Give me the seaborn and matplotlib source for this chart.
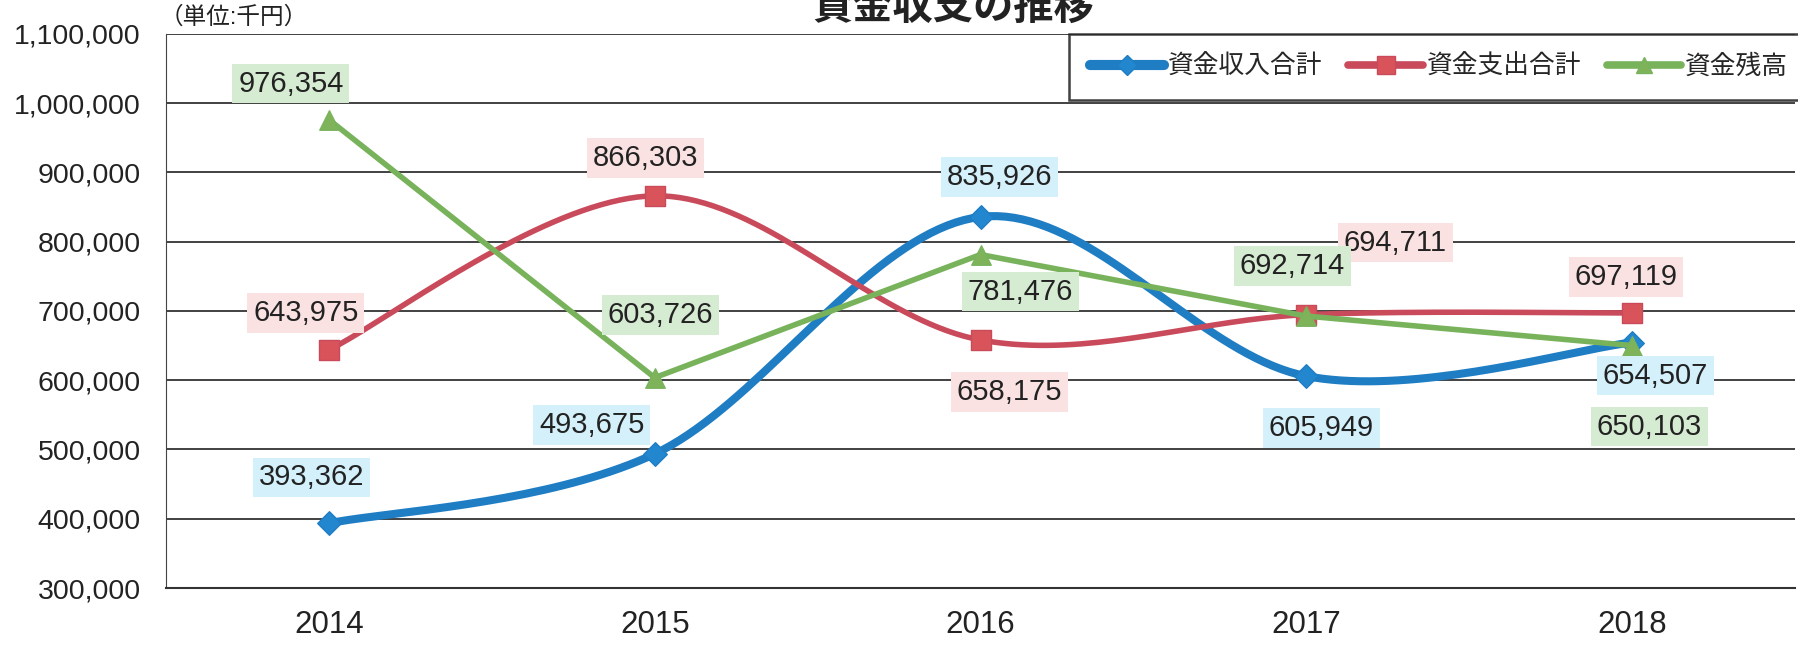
import numpy as np
import pandas as pd
import seaborn as sns
import matplotlib.pyplot as plt
from matplotlib.lines import Line2D
from matplotlib.ticker import FuncFormatter, MultipleLocator

# data (unit: thousand yen)
years = ['2014', '2015', '2016', '2017', '2018']
income = [393362, 493675, 835926, 605949, 654507]    # 資金収入合計
expense = [643975, 866303, 658175, 694711, 697119]   # 資金支出合計
balance = [976354, 603726, 781476, 692714, 650103]   # 資金残高

names = ['資金収入合計', '資金支出合計', '資金残高']

sns.set_style('white')
plt.rcParams['font.family'] = ['Liberation Sans', 'Noto Sans CJK JP', 'DejaVu Sans']

colors = {'資金収入合計': '#1f7dc4', '資金支出合計': '#c94b5b', '資金残高': '#78b35c'}
mfc = {'資金収入合計': '#2287cf', '資金支出合計': '#d9545a', '資金残高': '#7fb35a'}
box_colors = {'資金収入合計': '#d3f0fb', '資金支出合計': '#fbe2e2', '資金残高': '#d6ecd2'}
markers = {'資金収入合計': 'D', '資金支出合計': 's', '資金残高': '^'}
msize = {'資金収入合計': 12, '資金支出合計': 14.5, '資金残高': 14}
lw = {'資金収入合計': 5.8, '資金支出合計': 4, '資金残高': 4}
smooth = {'資金収入合計': True, '資金支出合計': True, '資金残高': False}

# label offsets in pixels (dx, dy) relative to each point
offsets = {
    '資金収入合計': [(-17, 46), (-63, 29), (19, 40), (15, -52), (23, -33)],
    '資金支出合計': [(-23, 37), (-9, 38), (29, -52), (89, 72), (-6, 36)],
    '資金残高': [(-38, 36), (6, 63), (40, -37), (-14, 50), (17, -81)],
}

df = pd.DataFrame({'x': np.arange(len(years)), 'year': years,
                   '資金収入合計': income, '資金支出合計': expense, '資金残高': balance})


def excel_smooth(xs, ys, n=40):
    # Bezier curve through the points, like Excel's "smoothed line"
    P = np.column_stack([xs, ys]).astype(float)
    out = []
    for i in range(len(P) - 1):
        p0 = P[i - 1] if i > 0 else P[i]
        p1, p2 = P[i], P[i + 1]
        p3 = P[i + 2] if i + 2 < len(P) else P[i + 1]
        c1 = p1 + (p2 - p0) / 6
        c2 = p2 - (p3 - p1) / 6
        t = np.linspace(0, 1, n)[:, None]
        seg = ((1 - t) ** 3) * p1 + 3 * ((1 - t) ** 2) * t * c1 + 3 * (1 - t) * t ** 2 * c2 + t ** 3 * p2
        out.append(seg if i == 0 else seg[1:])
    out = np.vstack(out)
    return out[:, 0], out[:, 1]


fig = plt.figure(figsize=(17.98, 6.49), dpi=100)
ax = fig.add_axes([166 / 1798, 1 - 588 / 649, (1795 - 166) / 1798, (588 - 34) / 649])

for z, name in enumerate(names):
    if smooth[name]:
        sx, sy = excel_smooth(df['x'], df[name])
    else:
        sx, sy = df['x'].values, df[name].values
    line_df = pd.DataFrame({'x': sx, 'y': sy})
    sns.lineplot(data=line_df, x='x', y='y', ax=ax, color=colors[name], linewidth=lw[name],
                 sort=False, estimator=None, zorder=3 + z, solid_capstyle='round')
    sns.scatterplot(data=df, x='x', y=name, ax=ax, marker=markers[name], s=msize[name] ** 2,
                    color=mfc[name], edgecolor=colors[name], linewidth=1, zorder=3.5 + z)

for name in names:
    for i, v in enumerate(df[name]):
        dx, dy = offsets[name][i]
        ax.annotate(f'{v:,}', xy=(i, v), xytext=(dx, dy), textcoords='offset pixels',
                    ha='center', va='center', fontsize=21, color='#222222', zorder=10,
                    bbox=dict(boxstyle='square,pad=0.2', fc=box_colors[name], ec='none'))

ax.set_xlim(-0.5, len(years) - 0.5)
ax.set_ylim(300000, 1100000)
ax.yaxis.set_major_locator(MultipleLocator(100000))
ax.yaxis.set_major_formatter(FuncFormatter(lambda v, p: f'{int(v):,}'))
ax.set_xticks(df['x'])
ax.set_xticklabels(years)
ax.set_xticks(np.arange(-0.5, len(years)), minor=True)
ax.tick_params(axis='x', which='major', length=0, labelsize=22.5, pad=16, colors='#222222')
ax.tick_params(axis='x', which='minor', direction='in', length=8, width=1, color='#555555')
ax.tick_params(axis='y', length=0, labelsize=20.5, pad=18, colors='#222222')
ax.set_xlabel('')
ax.set_ylabel('')
ax.grid(axis='y', color='#333333', linewidth=1.3)
ax.set_axisbelow(True)
for s in ['top', 'right']:
    ax.spines[s].set_visible(False)
ax.spines['left'].set_color('#444444')
ax.spines['bottom'].set_color('#333333')
ax.spines['bottom'].set_linewidth(1.5)

handles = [Line2D([0], [0], color=colors[n], lw=lw[n] + 1.5, marker=markers[n], markersize=msize[n] * 0.85,
                  markerfacecolor=mfc[n], markeredgecolor=colors[n], solid_capstyle='round')
           for n in names]
leg = fig.legend(handles, names, loc='upper right', bbox_to_anchor=(1.006, 1 - 34 / 649), ncol=3,
                 fontsize=18.5, frameon=True, fancybox=False, edgecolor='#111111',
                 handlelength=2.9, handletextpad=0.15, columnspacing=1.0, borderpad=0.8,
                 borderaxespad=0)
leg.get_frame().set_linewidth(1.8)
leg.set_zorder(20)

fig.text(953 / 1798, 1 - 8 / 649, '資金収支の推移', ha='center', va='center',
         fontsize=29, fontweight='bold', color='#222222')
fig.text(160 / 1798, 1 - 17 / 649, '（単位:千円）', ha='left', va='center',
         fontsize=17, color='#222222')

fig.savefig('out.png', dpi=100)
